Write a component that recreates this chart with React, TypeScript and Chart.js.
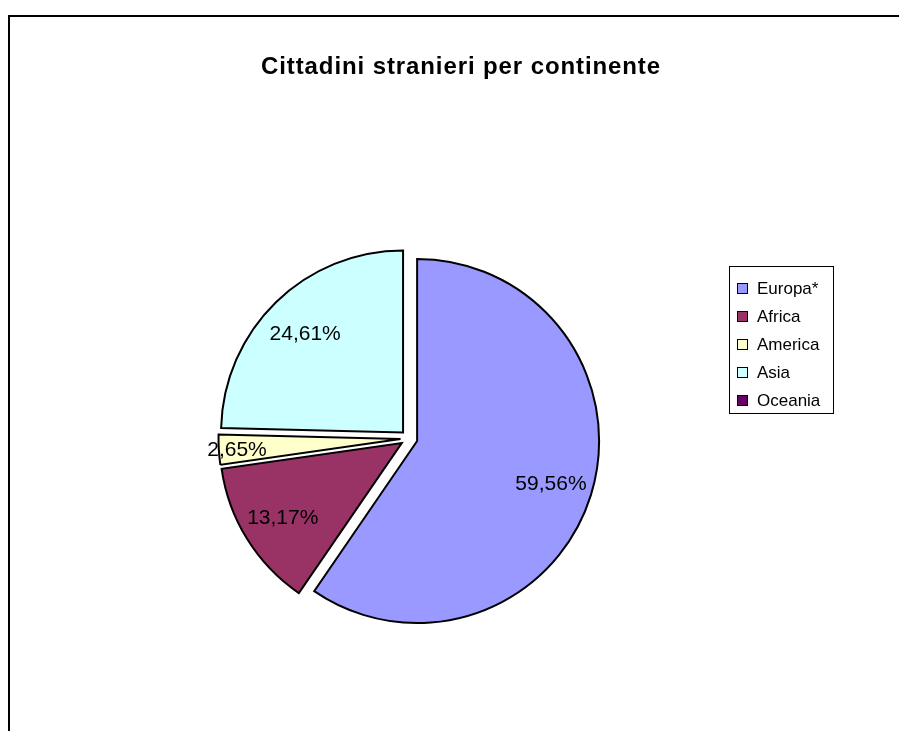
import React, { useEffect, useRef } from 'react';
import { Chart, registerables } from 'chart.js';

Chart.register(...registerables);

const TITLE = 'Cittadini stranieri per continente';
const categories = ['Europa*', 'Africa', 'America', 'Asia', 'Oceania'];
const shares = [59.56, 13.17, 2.65, 24.61, 0];
const colors = ['#9999ff', '#993366', '#ffffcc', '#ccffff', '#660066'];

const FONT = '"Liberation Sans", Arial, sans-serif';
const EXPLODE = 8.5;

function fmt(v: number) {
  return v.toFixed(2).replace('.', ',') + '%';
}

const explodePlugin = {
  id: 'explode',
  afterDatasetsUpdate(chart: any) {
    const meta = chart.getDatasetMeta(0);
    meta.data.forEach((arc: any) => {
      const mid = (arc.startAngle + arc.endAngle) / 2;
      arc.x += Math.cos(mid) * EXPLODE;
      arc.y += Math.sin(mid) * EXPLODE;
    });
  },
};

const decorPlugin = {
  id: 'decor',
  beforeDraw(chart: any) {
    const ctx = chart.ctx;
    ctx.save();
    ctx.fillStyle = '#ffffff';
    ctx.fillRect(0, 0, chart.width, chart.height);
    ctx.fillStyle = '#000000';
    ctx.fillRect(8, 15, chart.width, 2);
    ctx.fillRect(8, 15, 2, chart.height);
    ctx.restore();
  },
  afterDatasetsDraw(chart: any) {
    const ctx = chart.ctx;
    const meta = chart.getDatasetMeta(0);
    ctx.save();
    ctx.font = `21px ${FONT}`;
    ctx.fillStyle = '#000000';
    ctx.textAlign = 'center';
    ctx.textBaseline = 'alphabetic';
    meta.data.forEach((arc: any, i: number) => {
      const v = shares[i];
      if (!v) return;
      const mid = (arc.startAngle + arc.endAngle) / 2;
      const f = v < 5 ? 0.9 : 0.77;
      const x = arc.x + Math.cos(mid) * arc.outerRadius * f;
      const y = arc.y + Math.sin(mid) * arc.outerRadius * f;
      ctx.fillText(fmt(v), x, y + 7.5);
    });
    ctx.restore();
  },
  afterDraw(chart: any) {
    const ctx = chart.ctx;
    ctx.save();
    // title
    ctx.font = `bold 24px ${FONT}`;
    try { (ctx as any).letterSpacing = '0.9px'; } catch (e) {}
    ctx.fillStyle = '#000000';
    ctx.textAlign = 'center';
    ctx.textBaseline = 'alphabetic';
    ctx.fillText(TITLE, 461, 74);
    try { (ctx as any).letterSpacing = '0px'; } catch (e) {}
    // legend
    ctx.strokeStyle = '#000000';
    ctx.lineWidth = 1;
    ctx.strokeRect(729.5, 266.5, 104, 147);
    ctx.font = `17px ${FONT}`;
    ctx.textAlign = 'left';
    categories.forEach((c, i) => {
      const top = 283 + 28 * i;
      ctx.fillStyle = colors[i];
      ctx.fillRect(737, top, 11, 11);
      ctx.strokeStyle = '#000000';
      ctx.strokeRect(737.5, top + 0.5, 10, 10);
      ctx.fillStyle = '#000000';
      ctx.fillText(c, 757, top + 11);
    });
    ctx.restore();
  },
};

export default function App() {
  const ref = useRef<HTMLCanvasElement | null>(null);
  useEffect(() => {
    if (!ref.current) return;
    const chart = new Chart(ref.current, {
      type: 'pie',
      data: {
        labels: categories,
        datasets: [
          {
            data: shares,
            backgroundColor: colors,
            borderColor: '#000000',
            borderWidth: 2,
            borderJoinStyle: 'miter',
          } as any,
        ],
      },
      options: {
        responsive: false,
        animation: false,
        events: [],
        radius: 182,
        layout: { padding: { left: 0, right: 81, top: 146, bottom: 0 } },
        plugins: {
          legend: { display: false },
          title: { display: false },
          tooltip: { enabled: false },
        },
      } as any,
      plugins: [explodePlugin, decorPlugin],
    });
    return () => chart.destroy();
  }, []);
  return (
    <div style={{ position: 'fixed', left: 0, top: 0, width: 899, height: 731, background: '#fff' }}>
      <canvas ref={ref} width={899} height={731} style={{ display: 'block' }} />
    </div>
  );
}
